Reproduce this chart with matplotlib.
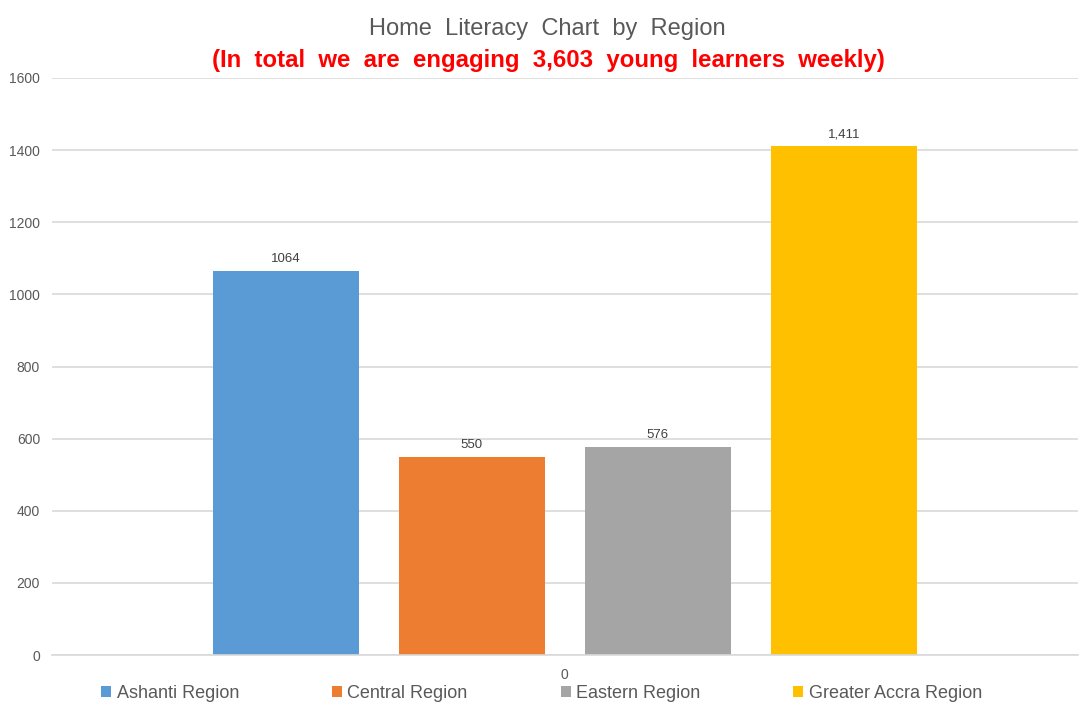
import matplotlib.pyplot as plt
from matplotlib.patches import Patch

regions = ["Ashanti Region", "Central Region", "Eastern Region", "Greater Accra Region"]
learners = [1064, 550, 576, 1411]
value_labels = ["1064", "550", "576", "1,411"]
colors = ["#5b9bd5", "#ed7d31", "#a5a5a5", "#ffc000"]
y_ticks = [0, 200, 400, 600, 800, 1000, 1200, 1400, 1600]
category_label = "0"

plt.rcParams["font.family"] = ["Liberation Sans", "DejaVu Sans"]

fig = plt.figure(figsize=(10.81, 7.09), dpi=100)
ax = fig.add_axes([0.048, 0.076, 0.949, 0.814])

bar_width = 0.1423
step = 0.1813
offsets = [(i - 1.5) * step for i in range(len(regions))]

for off, val, lab, col in zip(offsets, learners, value_labels, colors):
    ax.bar(off, val, width=bar_width, color=col, zorder=2)
    ax.text(off, val + 17, lab, ha="center", va="bottom", fontsize=9.5, color="#404040")

ax.set_xlim(-0.5, 0.5)
ax.set_ylim(0, 1600)
ax.set_yticks(y_ticks)
ax.set_xticks([0])
ax.set_xticklabels([category_label])
ax.tick_params(axis="both", length=0, labelsize=10, colors="#595959")
ax.tick_params(axis="y", pad=8.5)
ax.tick_params(axis="x", pad=9)
ax.yaxis.grid(True, color="#d9d9d9", linewidth=1.2, zorder=0)
ax.set_axisbelow(True)
for side in ["top", "right", "left"]:
    ax.spines[side].set_visible(False)
ax.spines["bottom"].set_color("#d9d9d9")
ax.spines["bottom"].set_linewidth(1.2)

# Excel spreads the words out, hence the double spaces
fig.text(0.506, 0.959, "Home  Literacy  Chart  by  Region", ha="center", va="center",
         fontsize=17, color="#595959")
fig.text(0.507, 0.915, "(In  total  we  are  engaging  3,603  young  learners  weekly)",
         ha="center", va="center", fontsize=17.3, color="#ff0000", fontweight="bold")

handles = [Patch(facecolor=c, edgecolor="none") for c in colors]
fig.legend(handles, regions, loc="center", bbox_to_anchor=(0.501, 0.022), ncol=4,
           frameon=False, fontsize=13, labelcolor="#595959", handlelength=0.55,
           handleheight=0.6, handletextpad=0.3, columnspacing=5.15)

fig.savefig("out.png", dpi=100)
